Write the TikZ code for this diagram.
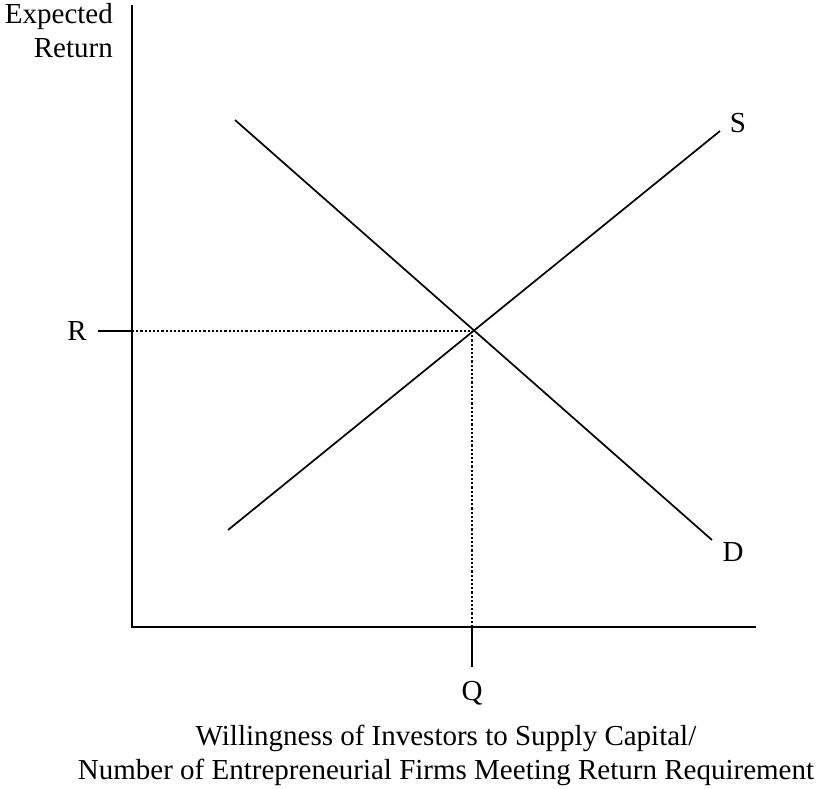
\documentclass[tikz,border=0pt]{standalone}
\usepackage{fontspec}
\setmainfont{Liberation Serif}
\begin{document}
\begin{tikzpicture}[x=1pt,y=-1pt,
  axisline/.style={line width=1.9pt},
  curve/.style={line width=1.7pt},
  guide/.style={line width=2.2pt, dash pattern=on 2.1pt off 2.1pt},
  lbl/.style={inner sep=0pt, font=\fontsize{29}{34}\selectfont}]
\useasboundingbox (0,0) rectangle (820,788);
\coordinate (top) at (132,5);
\coordinate (origin) at (132,627);
\coordinate (xend) at (756,627);
\coordinate (E) at (472,331);
\coordinate (Rl) at (98,331);
\coordinate (Ry) at (132,331);
\coordinate (Qx) at (472,627);
\coordinate (Qb) at (472,667);
\coordinate (S0) at (228,530);
\coordinate (S1) at (720,131);
\coordinate (D0) at (235,120);
\coordinate (D1) at (712,540);
\draw[axisline] (top) -- (origin) -- (xend);
\draw[axisline] (Rl) -- (Ry);
\draw[axisline] (Qx) -- (Qb);
\draw[guide] (Ry) -- (E);
\draw[guide] (E) -- (Qx);
\draw[curve] (S0) -- (S1);
\draw[curve] (D0) -- (D1);
\node[lbl, align=right, anchor=north east] (ylab) at (113,3) {Expected\\Return};
\node[lbl] (Slab) at (738,123) {S};
\node[lbl] (Dlab) at (733,552) {D};
\node[lbl] (Rlab) at (77,331) {R};
\node[lbl] (Qlab) at (472,693) {Q};
\node[lbl, align=center] (xlab) at (446,755) {Willingness of Investors to Supply Capital/\\Number of Entrepreneurial Firms Meeting Return Requirement};
\end{tikzpicture}
\end{document}
